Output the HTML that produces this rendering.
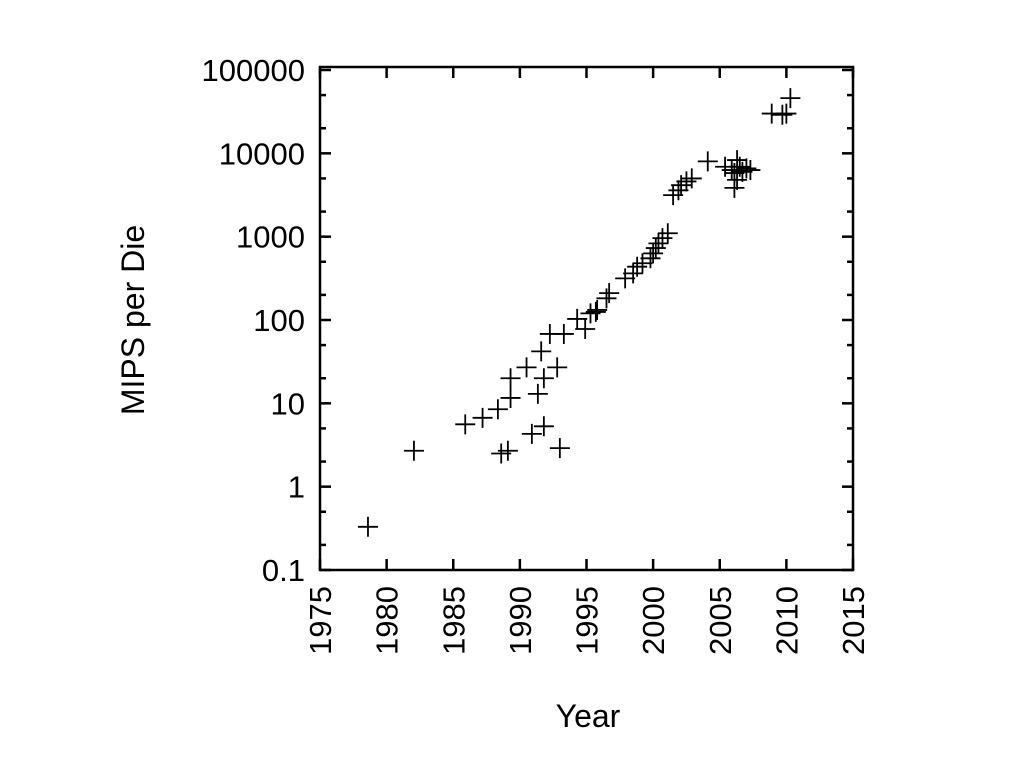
<!DOCTYPE html>
<html><head><meta charset="utf-8"><style>
body{margin:0;background:#fff}
svg{display:block;font-family:"Liberation Sans",sans-serif}
</style></head><body>
<svg id="c" width="1024" height="768"></svg>
<script>
const years=[1978.6,1982.05,1985.9,1987.2,1988.35,1989.3,1989.3,1990.5,1991.6,1992.25,1993.3,1991.8,1992.8,1991.35,1991.8,1990.9,1988.6,1989.1,1993,1994.3,1994.9,1995.3,1995.8,1995.7,1996.5,1996.7,1997.9,1998.5,1998.8,1999.2,1999.8,2000,2000.2,2000.4,2000.7,2001.1,2001.5,2001.9,2002.1,2002.5,2002.9,2004.1,2005.4,2005.9,2006.1,2006.3,2006.1,2006.3,2006.5,2006.7,2007,2007.3,2008.9,2009.7,2010,2010.3];
const mips=[0.33,2.7,5.6,6.7,8.5,11.6,20,27,42,68,68,20,27,13,5.3,4.3,2.5,2.7,2.9,103,78,120,132,125,182,210,316,363,436,480,550,630,730,830,960,1100,3150,3600,4150,4600,5000,8000,6900,6300,5800,4800,3850,8300,6900,6000,6600,6300,30000,29000,30000,46000];
const xTicks=[1975,1980,1985,1990,1995,2000,2005,2010,2015];
const yTicks=[0.1,1,10,100,1000,10000,100000];
const yLabels=["0.1","1","10","100","1000","10000","100000"];
const L=320,R=853,T=70,B=570;
const X=v=>L+(v-1975)/40*(R-L);
const Y=v=>B-(Math.log10(v)+1)/6*(B-T);
const s=document.getElementById('c'),NS='http://www.w3.org/2000/svg';
function mk(t,a,p){const e=document.createElementNS(NS,t);for(const k in a)e.setAttribute(k,a[k]);(p||s).appendChild(e);return e;}
const frame=mk('rect',{x:L,y:T-3,width:R-L,height:B-T+3,fill:'none',stroke:'#000','stroke-width':2.5});


xTicks.forEach(t=>{const x=X(t);
 mk('line',{x1:x,y1:B,x2:x,y2:B-11,stroke:'#000','stroke-width':2.5});
 mk('line',{x1:x,y1:T-3,x2:x,y2:T+8,stroke:'#000','stroke-width':2.5});
 const tx=mk('text',{x:0,y:0,'font-size':31,'text-anchor':'end',transform:`translate(${x+11},586) rotate(-90)`});
 tx.textContent=t;
 
 
});
yTicks.forEach((t,i)=>{const y=Y(t);
 mk('line',{x1:L,y1:y,x2:L+11,y2:y,stroke:'#000','stroke-width':2.5});
 mk('line',{x1:R,y1:y,x2:R-11,y2:y,stroke:'#000','stroke-width':2.5});
 if(i<yTicks.length-1)[2,5].forEach(m=>{const ym=Y(t*m);
  mk('line',{x1:L,y1:ym,x2:L+6,y2:ym,stroke:'#000','stroke-width':2.5});
  mk('line',{x1:R,y1:ym,x2:R-6,y2:ym,stroke:'#000','stroke-width':2.5});});
 const tx=mk('text',{x:305,y:y+11,'font-size':31,'text-anchor':'end'});
 tx.textContent=yLabels[i];
 
 
});
years.forEach((yr,i)=>{const x=X(yr),y=Y(mips[i]);
 const g=mk('path',{d:`M${x-10} ${y}H${x+10}M${x} ${y-10}V${y+10}`,stroke:'#000','stroke-width':1.8,fill:'none'});
 
 
});
const xt=mk('text',{x:588,y:727,'font-size':32,'text-anchor':'middle'});xt.textContent='Year';


const yt=mk('text',{x:0,y:0,'font-size':32,'text-anchor':'middle',transform:'translate(144,320) rotate(-90)'});yt.textContent='MIPS per Die';


</script>
</body></html>
